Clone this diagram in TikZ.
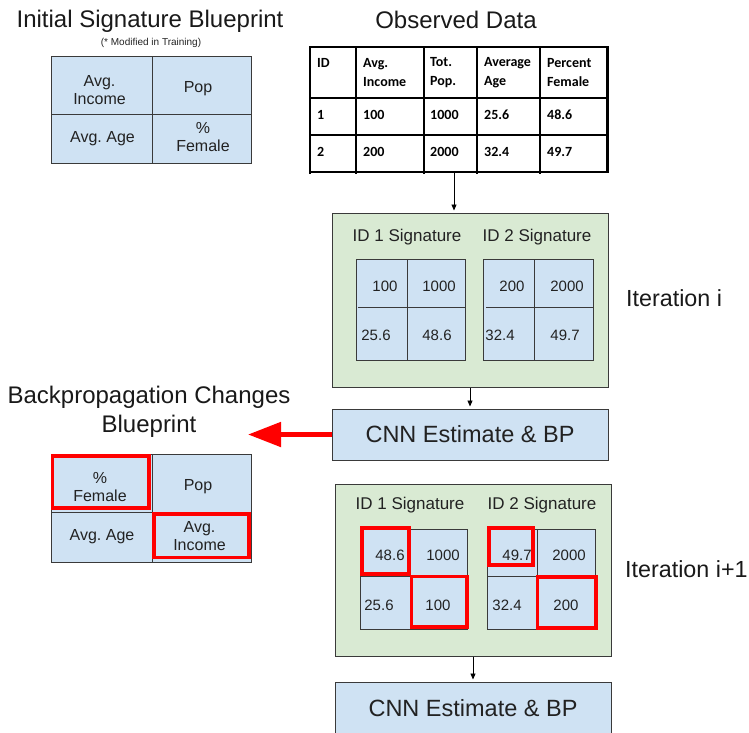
\documentclass[tikz,border=0pt]{standalone}
\usepackage{fontspec}
\setmainfont{Liberation Sans}
\newfontfamily\calfont{Carlito}
\usetikzlibrary{arrows.meta}
\definecolor{cellblue}{HTML}{CFE2F3}
\definecolor{boxgreen}{HTML}{D9EAD3}
\definecolor{edgegray}{HTML}{3A3A3A}
\definecolor{txt}{HTML}{222222}
\frenchspacing
\begin{document}
\begin{tikzpicture}[x=1pt,y=-1pt,
  every node/.style={text=txt, inner sep=0pt},
  grayline/.style={draw=edgegray, line width=1pt},
  bluecell/.style={grayline, fill=cellblue},
  greenbox/.style={draw=edgegray, line width=1pt, fill=boxgreen, minimum width=276pt},
  cnnbox/.style={draw=edgegray, line width=1pt, fill=cellblue, minimum width=276pt, font=\fontsize{23.5}{28}\selectfont},
  redmark/.style={draw=red, line width=3.2pt},
  titletext/.style={font=\fontsize{24}{29}\selectfont, align=center, text=black!90},
  itertext/.style={font=\fontsize{23.3}{28}\selectfont, anchor=west, text=black!90},
  celltext/.style={font=\fontsize{16}{18}\selectfont, align=center},
  num/.style={font=\fontsize{15}{18}\selectfont},
  siglabel/.style={font=\fontsize{17}{20}\selectfont},
  tabtext/.style={font=\calfont\bfseries\fontsize{14}{19}\selectfont, align=left, anchor=west, text=black},
  tabline/.style={draw=black, line width=1.4pt},
  conn/.style={draw=black, line width=0.9pt, -{Triangle[length=6pt,width=5pt]}, shorten >=2pt},
  bigred/.style={draw=red, line width=5pt, -{Triangle[length=33pt,width=24pt]}},
]
\useasboundingbox (0,0) rectangle (749,732);
\clip (0,0) rectangle (749,732);

% ---------- Initial blueprint ----------
\node[titletext] (t1) at (150,21) {Initial Signature Blueprint};
\node[font=\fontsize{10}{12}\selectfont] (t1sub) at (151,43) {(* Modified in Training)};
\draw[bluecell] (51,56) rectangle (251,163);
\draw[grayline] (152,56) -- (152,163) (51,114) -- (251,114);
\node[celltext] (b1a) at (99.5,90.5) {Avg.\\Income};
\node[celltext] (b1b) at (198,89) {Pop};
\node[celltext] (b1c) at (102.5,139) {Avg. Age};
\node[celltext] (b1d) at (203,137.5) {\%\\Female};

% ---------- Observed data ----------
\node[titletext] (t2) at (456,19.5) {Observed Data};
\node[minimum width=298pt, minimum height=125pt] (obs) at (459,109.5) {};
\fill[white] (310,47) rectangle (608,172);
\draw[tabline] (310,47) -- (608,47) (310,98) -- (608,98) (310,135) -- (608,135) (310,172) -- (608,172);
\draw[tabline] (310,46) -- (310,174) (356,46) -- (356,174) (424,46) -- (424,174) (477,46) -- (477,174) (540,46) -- (540,174);
\draw[draw=black, line width=3pt] (607,46) -- (607,173);
\node[tabtext] (hid) at (317,63) {ID};
\node[tabtext] (hinc) at (363,72.5) {Avg.\\Income};
\node[tabtext] (hpop) at (430,72.5) {Tot.\\Pop.};
\node[tabtext] (hage) at (484,72.5) {Average\\Age};
\node[tabtext] (hfem) at (547,72.5) {Percent\\Female};
\node[tabtext] (r1a) at (317,115) {1};
\node[tabtext] (r1b) at (363,115) {100};
\node[tabtext] (r1c) at (430,115) {1000};
\node[tabtext] (r1d) at (484,115) {25.6};
\node[tabtext] (r1e) at (547,115) {48.6};
\node[tabtext] (r2a) at (317,152) {2};
\node[tabtext] (r2b) at (363,152) {200};
\node[tabtext] (r2c) at (430,152) {2000};
\node[tabtext] (r2d) at (484,152) {32.4};
\node[tabtext] (r2e) at (547,152) {49.7};

% ---------- Iteration i ----------
\node[greenbox, minimum height=174pt] (it1) at (470,300) {};
\node[siglabel] (s1a) at (407,237) {ID 1 Signature};
\node[siglabel] (s1b) at (537,237) {ID 2 Signature};
\draw[bluecell] (356,259) rectangle (465,360);
\draw[grayline] (407,259) -- (407,360) (358,307) -- (465,307);
\draw[bluecell] (483,259) rectangle (593,360);
\draw[grayline] (534,259) -- (534,360) (486,307) -- (593,307);
\node[num] (n1) at (385,286) {100};
\node[num] (n2) at (439,286) {1000};
\node[num] (n3) at (376,335) {25.6};
\node[num] (n4) at (437,335) {48.6};
\node[num] (n5) at (512,286) {200};
\node[num] (n6) at (567,286) {2000};
\node[num] (n7) at (500,335) {32.4};
\node[num] (n8) at (565,335) {49.7};
\node[itertext] (iti) at (626,298) {Iteration i};

\node[cnnbox, minimum height=51pt] (cnn1) at (470,434.5) {CNN Estimate \& BP};

% ---------- Backprop blueprint ----------
\node[titletext] (t3) at (149,412) {Backpropagation Changes\\Blueprint};
\coordinate (bptip) at (248,434.5);
\draw[bluecell] (51,454) rectangle (251,562);
\draw[grayline] (152,454) -- (152,562) (51,512) -- (251,512);
\draw[redmark] (52.5,456) rectangle (149,508);
\draw[redmark] (154,514) rectangle (249,557.5);
\node[celltext] (b2a) at (100,487) {\%\\Female};
\node[celltext] (b2b) at (198,487) {Pop};
\node[celltext] (b2c) at (102,537) {Avg. Age};
\node[celltext] (b2d) at (199.5,536) {Avg.\\Income};

% ---------- Iteration i+1 ----------
\node[greenbox, minimum height=172pt] (it2) at (473,570) {};
\node[siglabel] (s2a) at (410,505) {ID 1 Signature};
\node[siglabel] (s2b) at (542,505) {ID 2 Signature};
\draw[bluecell] (360,529) rectangle (467,629);
\draw[grayline] (410,529) -- (410,629) (360,576) -- (467,576);
\draw[bluecell] (487,529) rectangle (595,629);
\draw[grayline] (537,529) -- (537,629) (487,576) -- (595,576);
\draw[redmark] (362,528) rectangle (409,574);
\draw[redmark] (411.5,576.5) rectangle (467,627);
\draw[redmark] (489,528) rectangle (533,565);
\draw[redmark] (537.5,577) rectangle (596,628);
\node[num] (m1) at (390,555) {48.6};
\node[num] (m2) at (443,555) {1000};
\node[num] (m3) at (379,605) {25.6};
\node[num] (m4) at (438,605) {100};
\node[num] (m5) at (517,555) {49.7};
\node[num] (m6) at (569,555) {2000};
\node[num] (m7) at (507,605) {32.4};
\node[num] (m8) at (566,605) {200};
\node[itertext] (iti1) at (625,569) {Iteration i+1};

\node[cnnbox, minimum height=52pt] (cnn2) at (473,708) {CNN Estimate \& BP};

% ---------- connectors ----------
\draw[conn] ([xshift=-5pt]obs.south) -- ([xshift=-16pt]it1.north);
\draw[conn] (it1.south) -- (cnn1.north);
\draw[conn] (it2.south) -- (cnn2.north);
\draw[bigred] (cnn1.west) -- (bptip);
\end{tikzpicture}
\end{document}
